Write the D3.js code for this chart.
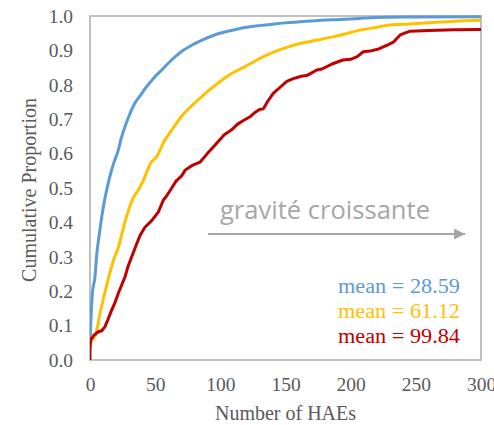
<!DOCTYPE html>
<html>
<head>
<meta charset="utf-8">
<script src="https://cdn.jsdelivr.net/npm/d3@7"></script>
<style>
  html, body { margin: 0; padding: 0; background: #fff; }
  svg { display: block; }
</style>
</head>
<body>
<svg id="chart" width="494" height="425"></svg>
<script>
// ---- data ----
const xTicks = [0, 50, 100, 150, 200, 250, 300];
const yTicks = [0, 0.1, 0.2, 0.3, 0.4, 0.5, 0.6, 0.7, 0.8, 0.9, 1.0];

const blueX = [0, 1, 2, 3.8, 5, 7.7, 8.4, 10, 12.8, 15, 18, 21.7, 24, 27, 30, 34.5, 38.8, 43.5, 49, 55, 62, 70, 78, 86, 95, 104, 112, 120, 130, 140, 150, 161, 175, 192, 207, 215, 250, 300];
const blueP = [0.055, 0.14, 0.20, 0.24, 0.30, 0.38, 0.40, 0.44, 0.494, 0.53, 0.57, 0.61, 0.645, 0.68, 0.71, 0.747, 0.77, 0.795, 0.82, 0.843, 0.87, 0.896, 0.915, 0.930, 0.944, 0.954, 0.961, 0.967, 0.972, 0.976, 0.980, 0.983, 0.987, 0.990, 0.993, 0.995, 0.997, 0.998];

const yellowX = [0, 4, 7.7, 14, 18, 22, 26, 33, 38, 41, 47, 51, 57.5, 63, 70, 77, 83, 90, 98, 105, 112, 119, 127, 136, 148, 161, 174, 187, 198, 207, 220, 230, 245, 263, 280, 300];
const yellowP = [0.053, 0.07, 0.136, 0.235, 0.29, 0.33, 0.39, 0.47, 0.50, 0.523, 0.575, 0.59, 0.64, 0.67, 0.707, 0.735, 0.756, 0.78, 0.804, 0.824, 0.84, 0.853, 0.87, 0.887, 0.905, 0.92, 0.93, 0.94, 0.95, 0.959, 0.967, 0.974, 0.977, 0.981, 0.985, 0.988];

const redX = [0, 0, 0.5, 3, 6.4, 9, 11.5, 14, 16.6, 19, 21.7, 24, 26.9, 29, 32, 35, 38.4, 42, 47.3, 52.4, 56.3, 59, 62.7, 66, 70.3, 73, 78, 84.4, 90, 97.2, 103, 108.7, 113, 118, 122.8, 126, 130, 133, 136, 140.6, 145, 151, 156, 162, 167, 174, 178, 186.7, 194, 200, 205, 209.7, 215, 222, 228, 233, 238, 245.5, 260, 280, 300];
const redP = [0, 0.03, 0.058, 0.072, 0.082, 0.085, 0.097, 0.12, 0.145, 0.165, 0.194, 0.215, 0.242, 0.27, 0.30, 0.33, 0.362, 0.385, 0.405, 0.43, 0.465, 0.478, 0.50, 0.52, 0.535, 0.552, 0.565, 0.575, 0.60, 0.63, 0.655, 0.669, 0.685, 0.697, 0.707, 0.718, 0.728, 0.73, 0.75, 0.775, 0.79, 0.81, 0.818, 0.825, 0.828, 0.843, 0.846, 0.862, 0.872, 0.874, 0.882, 0.896, 0.898, 0.905, 0.915, 0.925, 0.945, 0.956, 0.958, 0.96, 0.961];

const seriesColors = ["#5B9BD5", "#FFC000", "#C00000"];
const meanLabels = ["mean = 28.59", "mean = 61.12", "mean = 99.84"];

// ---- layout ----
const svg = d3.select("#chart");
const m = { left: 90, right: 481, top: 16, bottom: 360 };

const x = d3.scaleLinear().domain([0, 300]).range([m.left, m.right]);
const y = d3.scaleLinear().domain([0, 1]).range([m.bottom, m.top]);

const serif = "'Liberation Serif', 'Times New Roman', serif";

// plot border
svg.append("rect")
  .attr("x", m.left).attr("y", m.top)
  .attr("width", m.right - m.left).attr("height", m.bottom - m.top)
  .attr("fill", "none").attr("stroke", "#BFBFBF").attr("stroke-width", 2);

// axes
const yAxis = svg.append("g")
  .attr("transform", `translate(${m.left},0)`)
  .call(d3.axisLeft(y).tickValues(yTicks).tickFormat(d3.format(".1f")).tickSize(0).tickPadding(17));
const xAxis = svg.append("g")
  .attr("transform", `translate(0,${m.bottom})`)
  .call(d3.axisBottom(x).tickValues(xTicks).tickSize(0).tickPadding(17));
[xAxis, yAxis].forEach(g => {
  g.select(".domain").remove();
  g.selectAll("text")
    .attr("fill", "#595959")
    .style("font-family", serif)
    .style("font-size", "19.5px");
});

// clip
svg.append("clipPath").attr("id", "clip")
  .append("rect").attr("x", m.left).attr("y", m.top - 2)
  .attr("width", m.right - m.left).attr("height", m.bottom - m.top + 3);

const smoothLine = d3.line().x(d => x(d[0])).y(d => y(d[1])).curve(d3.curveMonotoneX);
const rawLine = d3.line().x(d => x(d[0])).y(d => y(d[1]));
const series = [
  blueX.map((v, i) => [v, blueP[i]]),
  yellowX.map((v, i) => [v, yellowP[i]]),
  redX.map((v, i) => [v, redP[i]])
];

svg.append("g").attr("clip-path", "url(#clip)")
  .selectAll("path").data(series).join("path")
  .attr("d", (d, i) => i < 2 ? smoothLine(d) : rawLine(d))
  .attr("fill", "none")
  .attr("stroke", (d, i) => seriesColors[i])
  .attr("stroke-width", 3)
  .attr("stroke-linejoin", "round");

// axis titles
svg.append("text")
  .attr("x", (m.left + m.right) / 2)
  .attr("y", 420)
  .attr("text-anchor", "middle")
  .attr("fill", "#595959")
  .style("font-family", serif).style("font-size", "20px")
  .text("Number of HAEs");

svg.append("text")
  .attr("transform", "translate(36,190) rotate(-90)")
  .attr("text-anchor", "middle")
  .attr("fill", "#595959")
  .style("font-family", serif).style("font-size", "20px")
  .text("Cumulative Proportion");

// annotation: gravité croissante + arrow
svg.append("text")
  .attr("x", 220).attr("y", 219)
  .attr("fill", "#A6A6A6")
  .attr("textLength", 210).attr("lengthAdjust", "spacingAndGlyphs")
  .style("font-family", "'Open Sans', sans-serif").style("font-size", "26px")
  .text("gravité croissante");

svg.append("defs").append("marker")
  .attr("id", "arrowhead")
  .attr("viewBox", "0 0 10 10")
  .attr("refX", 10).attr("refY", 5)
  .attr("markerUnits", "userSpaceOnUse")
  .attr("markerWidth", 17).attr("markerHeight", 11)
  .attr("orient", "auto")
  .append("path").attr("d", "M0,0 L10,5 L0,10 Z").attr("fill", "#A6A6A6");

svg.append("line")
  .attr("x1", 208).attr("x2", 465)
  .attr("y1", 234).attr("y2", 234)
  .attr("stroke", "#A6A6A6").attr("stroke-width", 2)
  .attr("marker-end", "url(#arrowhead)");

// mean labels
svg.append("g").selectAll("text").data(meanLabels).join("text")
  .attr("x", 338)
  .attr("y", (d, i) => 293 + i * 25)
  .attr("fill", (d, i) => seriesColors[i])
  .attr("textLength", 122).attr("lengthAdjust", "spacingAndGlyphs")
  .style("font-family", serif).style("font-size", "20.5px")
  .text(d => d);
</script>
</body>
</html>
